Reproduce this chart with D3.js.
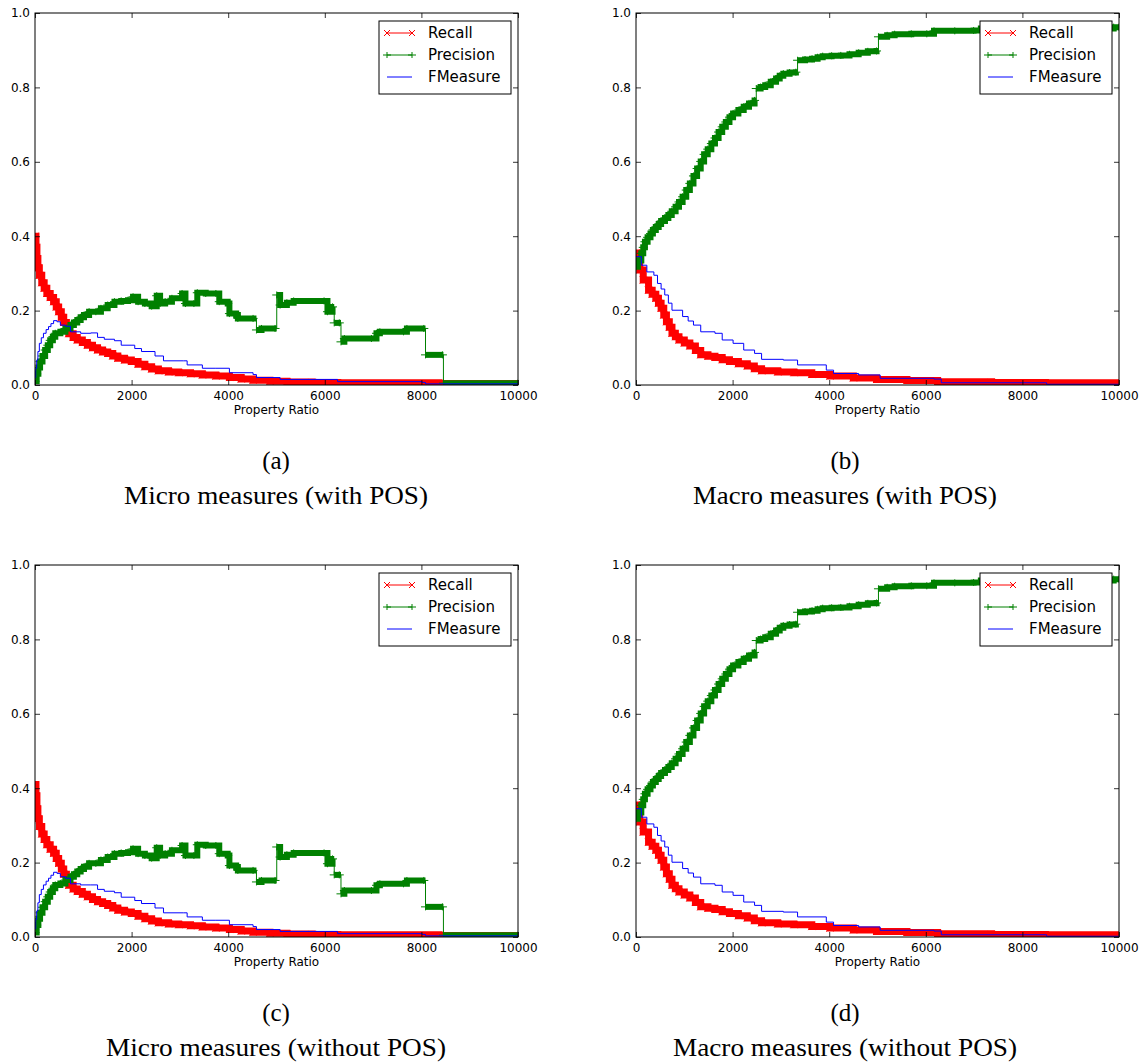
<!DOCTYPE html>
<html>
<head>
<meta charset="utf-8">
<script src="https://cdn.jsdelivr.net/npm/d3@7"></script>
<style>
  body { margin: 0; background: #fff; }
  svg { display: block; }
</style>
</head>
<body>
<div id="fig"></div>
<script>
// ---- data ----
var xTicks = [0, 2000, 4000, 6000, 8000, 10000];
var yTicks = [0, 0.2, 0.4, 0.6, 0.8, 1.0];
var seriesNames = ["Recall", "Precision", "FMeasure"];
var panelLetters = ["(a)", "(b)", "(c)", "(d)"];
var panelCaptions = ["Micro measures (with POS)", "Macro measures (with POS)",
                     "Micro measures (without POS)", "Macro measures (without POS)"];

// (a) micro, with POS
var microPosRecall = [[0,0.40],[20,0.37],[40,0.34],[60,0.315],[90,0.295],[140,0.275],[190,0.26],
  [245,0.246],[315,0.235],[385,0.224],[440,0.21],[490,0.197],[545,0.182],[595,0.168],[650,0.155],
  [700,0.138],[790,0.128],[875,0.121],[980,0.114],[1085,0.107],[1190,0.1],[1295,0.094],[1400,0.089],
  [1505,0.085],[1610,0.078],[1715,0.072],[1855,0.067],[1995,0.063],[2135,0.056],[2275,0.049],
  [2415,0.043],[2555,0.038],[2765,0.035],[2975,0.033],[3220,0.03],[3465,0.027],[3745,0.024],
  [4025,0.02],[4270,0.016],[4515,0.013],[4865,0.01],[5215,0.008],[5740,0.007],[6265,0.006],
  [8365,0.004],[10000,0.003]];
var microPosPrecision = [[0,0.01],[35,0.03],[70,0.047],[105,0.063],[155,0.078],[210,0.094],
  [265,0.107],[315,0.12],[370,0.13],[420,0.139],[525,0.143],[630,0.152],[735,0.161],[805,0.168],
  [875,0.175],[945,0.182],[1015,0.188],[1120,0.197],[1260,0.197],[1365,0.206],[1505,0.215],
  [1645,0.224],[1785,0.226],[1925,0.228],[2030,0.237],[2135,0.224],[2275,0.219],[2415,0.212],
  [2520,0.24],[2590,0.219],[2695,0.224],[2835,0.233],[3045,0.246],[3115,0.219],[3290,0.219],
  [3360,0.248],[3535,0.246],[3745,0.246],[3815,0.224],[3990,0.219],[4025,0.192],[4165,0.188],
  [4200,0.179],[4515,0.179],[4585,0.148],[4690,0.152],[4970,0.152],[5005,0.242],[5075,0.215],
  [5215,0.221],[5355,0.226],[5985,0.226],[6055,0.197],[6160,0.21],[6195,0.167],[6300,0.167],
  [6335,0.116],[6405,0.125],[6965,0.125],[7070,0.139],[7140,0.143],[7630,0.143],[7700,0.152],
  [8050,0.152],[8085,0.081],[8435,0.081],[8456,0.005],[10000,0.005]];
var microPosFMeasure = [[0,0.02],[15,0.045],[35,0.067],[60,0.09],[90,0.112],[130,0.127],[175,0.139],
  [230,0.149],[280,0.157],[330,0.165],[385,0.173],[455,0.17],[525,0.161],[630,0.158],[735,0.143],
  [945,0.139],[1155,0.14],[1295,0.128],[1435,0.123],[1645,0.119],[1785,0.107],[2065,0.098],
  [2205,0.09],[2485,0.078],[2660,0.065],[3080,0.065],[3150,0.054],[3465,0.045],[3745,0.045],
  [4025,0.033],[4515,0.028],[4585,0.02],[5075,0.015],[5985,0.015],[6265,0.009],[8015,0.007],
  [8085,0.003],[10000,0.003]];

// (b) macro, with POS
var macroPosRecall = [[0,0.355],[30,0.335],[75,0.309],[150,0.282],[260,0.255],[335,0.244],
  [410,0.233],[465,0.22],[520,0.206],[575,0.188],[630,0.17],[690,0.155],[745,0.139],[815,0.13],
  [890,0.121],[1000,0.113],[1115,0.105],[1230,0.093],[1340,0.081],[1490,0.077],[1635,0.074],
  [1785,0.068],[1935,0.063],[2120,0.057],[2305,0.051],[2450,0.044],[2600,0.038],[2935,0.035],
  [3270,0.033],[3640,0.028],[4015,0.024],[4500,0.019],[4980,0.015],[5610,0.012],[6245,0.009],
  [7360,0.007],[8475,0.006],[10000,0.004]];
var macroPosPrecision = [[0,0.318],[40,0.335],[110,0.354],[150,0.37],[185,0.385],[240,0.397],
  [300,0.407],[350,0.417],[410,0.425],[470,0.433],[520,0.441],[600,0.449],[670,0.457],[740,0.467],
  [820,0.479],[890,0.492],[965,0.506],[1040,0.524],[1115,0.542],[1190,0.562],[1265,0.582],
  [1340,0.601],[1410,0.62],[1485,0.634],[1560,0.649],[1635,0.664],[1710,0.68],[1785,0.694],
  [1860,0.707],[1935,0.72],[2010,0.73],[2120,0.739],[2230,0.748],[2340,0.757],[2455,0.765],
  [2490,0.797],[2580,0.801],[2675,0.806],[2790,0.815],[2900,0.824],[2975,0.831],[3050,0.837],
  [3180,0.84],[3310,0.841],[3345,0.873],[3500,0.875],[3645,0.877],[3760,0.881],[3865,0.884],
  [4050,0.885],[4240,0.886],[4420,0.889],[4610,0.893],[4800,0.897],[4980,0.898],[5020,0.936],
  [5200,0.94],[5355,0.943],[5700,0.944],[6020,0.944],[6170,0.952],[6600,0.952],[6990,0.953],
  [7140,0.958],[9890,0.962],[10000,0.962]];
var macroPosFMeasure = [[0,0.345],[110,0.322],[225,0.304],[370,0.295],[445,0.273],[520,0.258],
  [595,0.242],[670,0.22],[745,0.201],[965,0.184],[1080,0.172],[1190,0.161],[1340,0.143],
  [1635,0.139],[1785,0.121],[2010,0.112],[2230,0.094],[2455,0.085],[2600,0.069],[3050,0.067],
  [3345,0.054],[3940,0.04],[4090,0.031],[4610,0.027],[5055,0.018],[6170,0.016],[6320,0.006],
  [8475,0.006],[8500,0.002],[10000,0.002]];

// (c) micro, without POS
var microNoPosRecall = [[0,0.41],[20,0.38],[40,0.345],[60,0.318],[90,0.297],[140,0.277],[190,0.262],
  [245,0.248],[315,0.236],[385,0.225],[440,0.211],[490,0.198],[545,0.183],[595,0.169],[650,0.156],
  [700,0.139],[790,0.129],[875,0.122],[980,0.115],[1085,0.108],[1190,0.101],[1295,0.095],[1400,0.09],
  [1505,0.085],[1610,0.078],[1715,0.072],[1855,0.067],[1995,0.063],[2135,0.056],[2275,0.049],
  [2415,0.043],[2555,0.038],[2765,0.035],[2975,0.033],[3220,0.03],[3465,0.027],[3745,0.024],
  [4025,0.02],[4270,0.016],[4515,0.013],[4865,0.01],[5215,0.008],[5740,0.007],[6265,0.006],
  [8365,0.004],[10000,0.003]];
var microNoPosPrecision = [[0,0.012],[35,0.032],[70,0.049],[105,0.065],[155,0.08],[210,0.095],
  [265,0.108],[315,0.121],[370,0.131],[420,0.14],[525,0.144],[630,0.153],[735,0.162],[805,0.169],
  [875,0.176],[945,0.183],[1015,0.189],[1120,0.198],[1260,0.198],[1365,0.207],[1505,0.215],
  [1645,0.224],[1785,0.226],[1925,0.228],[2030,0.237],[2135,0.224],[2275,0.219],[2415,0.212],
  [2520,0.24],[2590,0.219],[2695,0.224],[2835,0.233],[3045,0.246],[3115,0.219],[3290,0.219],
  [3360,0.248],[3535,0.246],[3745,0.246],[3815,0.224],[3990,0.219],[4025,0.192],[4165,0.188],
  [4200,0.179],[4515,0.179],[4585,0.148],[4690,0.152],[4970,0.152],[5005,0.242],[5075,0.215],
  [5215,0.221],[5355,0.226],[5985,0.226],[6055,0.197],[6160,0.21],[6195,0.167],[6300,0.167],
  [6335,0.116],[6405,0.125],[6965,0.125],[7070,0.139],[7140,0.143],[7630,0.143],[7700,0.152],
  [8050,0.152],[8085,0.081],[8435,0.081],[8456,0.005],[10000,0.005]];
var microNoPosFMeasure = [[0,0.022],[15,0.047],[35,0.07],[60,0.092],[90,0.114],[130,0.128],
  [175,0.14],[230,0.15],[280,0.158],[330,0.166],[385,0.174],[455,0.171],[525,0.162],[630,0.158],
  [735,0.143],[945,0.14],[1155,0.14],[1295,0.128],[1435,0.123],[1645,0.119],[1785,0.107],
  [2065,0.098],[2205,0.09],[2485,0.078],[2660,0.065],[3080,0.065],[3150,0.054],[3465,0.045],
  [3745,0.045],[4025,0.033],[4515,0.028],[4585,0.02],[5075,0.015],[5985,0.015],[6265,0.009],
  [8015,0.007],[8085,0.003],[10000,0.003]];

// (d) macro, without POS
var macroNoPosRecall = [[0,0.355],[30,0.335],[75,0.309],[150,0.282],[260,0.255],[335,0.244],
  [410,0.233],[465,0.22],[520,0.206],[575,0.188],[630,0.17],[690,0.155],[745,0.139],[815,0.13],
  [890,0.121],[1000,0.113],[1115,0.105],[1230,0.093],[1340,0.081],[1490,0.077],[1635,0.074],
  [1785,0.068],[1935,0.063],[2120,0.057],[2305,0.051],[2450,0.044],[2600,0.038],[2935,0.035],
  [3270,0.033],[3640,0.028],[4015,0.024],[4500,0.019],[4980,0.015],[5610,0.012],[6245,0.009],
  [7360,0.007],[8475,0.006],[10000,0.004]];
var macroNoPosPrecision = [[0,0.318],[40,0.335],[110,0.354],[150,0.37],[185,0.385],[240,0.397],
  [300,0.407],[350,0.417],[410,0.425],[470,0.433],[520,0.441],[600,0.449],[670,0.457],[740,0.467],
  [820,0.479],[890,0.492],[965,0.506],[1040,0.524],[1115,0.542],[1190,0.562],[1265,0.582],
  [1340,0.601],[1410,0.62],[1485,0.634],[1560,0.649],[1635,0.664],[1710,0.68],[1785,0.694],
  [1860,0.707],[1935,0.72],[2010,0.73],[2120,0.739],[2230,0.748],[2340,0.757],[2455,0.765],
  [2490,0.797],[2580,0.801],[2675,0.806],[2790,0.815],[2900,0.824],[2975,0.831],[3050,0.837],
  [3180,0.84],[3310,0.841],[3345,0.873],[3500,0.875],[3645,0.877],[3760,0.881],[3865,0.884],
  [4050,0.885],[4240,0.886],[4420,0.889],[4610,0.893],[4800,0.897],[4980,0.898],[5020,0.936],
  [5200,0.94],[5355,0.943],[5700,0.944],[6020,0.944],[6170,0.952],[6600,0.952],[6990,0.953],
  [7140,0.958],[9890,0.962],[10000,0.962]];
var macroNoPosFMeasure = [[0,0.345],[110,0.322],[225,0.304],[370,0.295],[445,0.273],[520,0.258],
  [595,0.242],[670,0.22],[745,0.201],[965,0.184],[1080,0.172],[1190,0.161],[1340,0.143],
  [1635,0.139],[1785,0.121],[2010,0.112],[2230,0.094],[2455,0.085],[2600,0.069],[3050,0.067],
  [3345,0.054],[3940,0.04],[4090,0.031],[4610,0.027],[5055,0.018],[6170,0.016],[6320,0.006],
  [8475,0.006],[8500,0.002],[10000,0.002]];

// ---- layout ----
var W = 483, H = 372;
var panels = [
  { left: 35,  top: 13,  capX: 276, recall: microPosRecall,   precision: microPosPrecision,   fmeasure: microPosFMeasure },
  { left: 636, top: 13,  capX: 845, recall: macroPosRecall,   precision: macroPosPrecision,   fmeasure: macroPosFMeasure },
  { left: 35,  top: 565, capX: 276, recall: microNoPosRecall, precision: microNoPosPrecision, fmeasure: microNoPosFMeasure },
  { left: 636, top: 565, capX: 845, recall: macroNoPosRecall, precision: macroNoPosPrecision, fmeasure: macroNoPosFMeasure }
];
var captionWidths = [304, 304, 340, 344];
var RED = "#ff0000", GREEN = "#008000", BLUE = "#0000ff";
var tickFont = "'DejaVu Sans', sans-serif";
var capFont = "'Liberation Serif', serif";

var svg = d3.select("#fig").append("svg")
  .attr("width", 1148)
  .attr("height", 1062);

var x = d3.scaleLinear().domain([0, 10000]).range([0, W]);
var y = d3.scaleLinear().domain([0, 1]).range([H, 0]);

var stepLine = d3.line()
  .x(function(d) { return x(d[0]); })
  .y(function(d) { return y(d[1]); })
  .curve(d3.curveStepAfter);

// split a series where it jumps a lot, so the marker band stays thin on big steps
function runsOf(data, maxJump) {
  var runs = [], cur = [data[0]];
  for (var i = 1; i < data.length; i++) {
    if (Math.abs(data[i][1] - data[i - 1][1]) > maxJump) {
      cur.push([data[i][0], data[i - 1][1]]);
      runs.push(cur);
      cur = [data[i]];
    } else {
      cur.push(data[i]);
    }
  }
  runs.push(cur);
  return runs;
}

function markerPath(type, s) {
  if (type == "x") return "M" + (-s) + "," + (-s) + "L" + s + "," + s + "M" + (-s) + "," + s + "L" + s + "," + (-s);
  return "M" + (-s - 1) + ",0L" + (s + 1) + ",0M0," + (-s) + "L0," + s;
}

function drawBand(g, data, color, width, maxJump) {
  runsOf(data, maxJump).forEach(function(run) {
    g.append("path")
      .attr("d", stepLine(run))
      .attr("fill", "none")
      .attr("stroke", color)
      .attr("stroke-width", width)
      .attr("stroke-linejoin", "miter");
  });
}

function drawMarkers(g, data, type, color, s) {
  g.selectAll(null)
    .data(data)
    .enter().append("path")
    .attr("transform", function(d) { return "translate(" + x(d[0]) + "," + y(d[1]) + ")"; })
    .attr("d", markerPath(type, s))
    .attr("fill", "none")
    .attr("stroke", color)
    .attr("stroke-width", 1);
}

function drawStep(g, data, color) {
  g.append("path")
    .attr("d", stepLine(data))
    .attr("fill", "none")
    .attr("stroke", color)
    .attr("stroke-width", 1);
}

panels.forEach(function(p, i) {
  var g = svg.append("g").attr("transform", "translate(" + p.left + "," + p.top + ")");

  g.append("clipPath").attr("id", "clip" + i)
    .append("rect").attr("width", W).attr("height", H);
  var plot = g.append("g").attr("clip-path", "url(#clip" + i + ")");

  // Recall: dense 'x' markers, drawn as a band
  drawBand(plot, p.recall, RED, 7, 1);
  drawMarkers(plot, p.recall, "x", RED, 3.5);
  // Precision: dense '+' markers, thin line on big jumps
  drawBand(plot, p.precision, GREEN, 6, 0.03);
  drawMarkers(plot, p.precision, "+", GREEN, 3.5);
  drawStep(plot, p.precision, GREEN);
  // FMeasure: plain line
  drawStep(plot, p.fmeasure, BLUE);

  // axes, ticks pointing inward on all four sides
  var bottom = g.append("g").attr("transform", "translate(0," + H + ")")
    .call(d3.axisBottom(x).tickValues(xTicks).tickFormat(d3.format("d")).tickSize(-5).tickPadding(6));
  var left = g.append("g")
    .call(d3.axisLeft(y).tickValues(yTicks).tickFormat(d3.format(".1f")).tickSize(-5).tickPadding(5));
  var top = g.append("g")
    .call(d3.axisTop(x).tickValues(xTicks).tickFormat("").tickSize(-5));
  var right = g.append("g").attr("transform", "translate(" + W + ",0)")
    .call(d3.axisRight(y).tickValues(yTicks).tickFormat("").tickSize(-5));
  [bottom, left, top, right].forEach(function(a) {
    a.select(".domain").remove();
    a.selectAll("line").attr("stroke", "#000").attr("stroke-width", 0.8);
    a.selectAll("text").attr("fill", "#000").style("font-family", tickFont).style("font-size", "12px");
  });

  g.append("rect")
    .attr("width", W).attr("height", H)
    .attr("fill", "none").attr("stroke", "#000").attr("stroke-width", 1);

  g.append("text")
    .attr("x", W / 2).attr("y", H + 25)
    .attr("text-anchor", "middle").attr("dominant-baseline", "central")
    .style("font-family", tickFont).style("font-size", "12px")
    .text("Property Ratio");

  // legend
  var leg = g.append("g").attr("transform", "translate(" + (W - 7 - 132) + ",8)");
  leg.append("rect")
    .attr("width", 132).attr("height", 73)
    .attr("fill", "#fff").attr("stroke", "#000").attr("stroke-width", 1);
  var legColors = [RED, GREEN, BLUE], legMarks = ["x", "+", null];
  seriesNames.forEach(function(name, k) {
    var ly = 12 + k * 22;
    leg.append("line")
      .attr("x1", 8).attr("x2", 33).attr("y1", ly).attr("y2", ly)
      .attr("stroke", legColors[k]).attr("stroke-width", 1);
    if (legMarks[k]) {
      [8, 33].forEach(function(mx) {
        leg.append("path")
          .attr("transform", "translate(" + mx + "," + ly + ")")
          .attr("d", markerPath(legMarks[k], 3))
          .attr("fill", "none").attr("stroke", legColors[k]);
      });
    }
    leg.append("text")
      .attr("x", 49).attr("y", ly)
      .attr("dominant-baseline", "central")
      .style("font-family", tickFont).style("font-size", "15px")
      .text(name);
  });

  // sub-figure captions
  svg.append("text")
    .attr("x", p.capX).attr("y", p.top + 447)
    .attr("text-anchor", "middle").attr("dominant-baseline", "central")
    .style("font-family", capFont).style("font-size", "25px")
    .text(panelLetters[i]);
  svg.append("text")
    .attr("x", p.capX).attr("y", p.top + 482)
    .attr("text-anchor", "middle").attr("dominant-baseline", "central")
    .attr("textLength", captionWidths[i]).attr("lengthAdjust", "spacingAndGlyphs")
    .style("font-family", capFont).style("font-size", "25px")
    .text(panelCaptions[i]);
});
</script>
</body>
</html>
